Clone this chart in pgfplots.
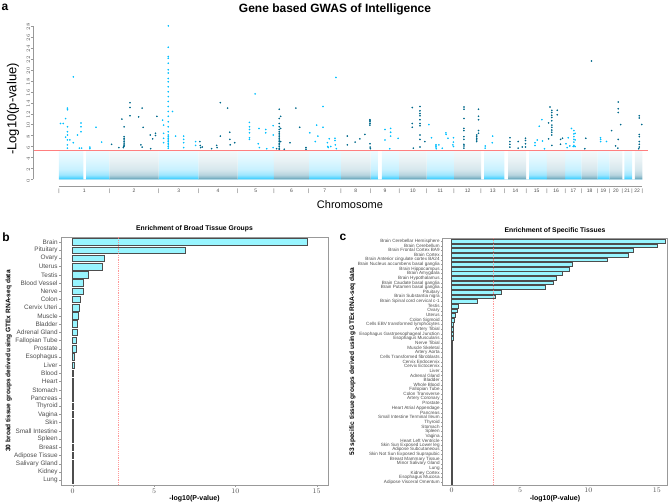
\documentclass[border=0pt]{standalone}
\usepackage{pgfplots}
\pgfplotsset{compat=1.18}
\usepackage{fontspec}
\setmainfont{Liberation Sans}
\definecolor{lightchr}{HTML}{00BFFF}
\definecolor{darkchr}{HTML}{00688B}
\definecolor{barfill}{HTML}{98F5FF}
\definecolor{bardraw}{HTML}{4D4D4D}
\definecolor{thr}{HTML}{FF7F7F}
\definecolor{axgray}{HTML}{999999}
\definecolor{txtgray}{HTML}{4D4D4D}

% density of the non-significant genes, densest near zero
% (TikZ maps 25bp..75bp of a shading onto the path)
\pgfdeclareverticalshading{noiseodd}{100bp}{color(0bp)=(lightchr!90!white); color(25bp)=(lightchr!90!white); color(28bp)=(lightchr!65!white); color(33bp)=(lightchr!38!white); color(42bp)=(lightchr!22!white); color(58bp)=(lightchr!13!white); color(75bp)=(lightchr!6!white); color(100bp)=(white)}
\pgfdeclareverticalshading{noiseeven}{100bp}{color(0bp)=(darkchr!75!white); color(25bp)=(darkchr!75!white); color(28bp)=(darkchr!48!white); color(33bp)=(darkchr!28!white); color(42bp)=(darkchr!16!white); color(58bp)=(darkchr!9!white); color(75bp)=(darkchr!4!white); color(100bp)=(white)}

% chromosome boundaries (Mb, cumulative)
\newcommand{\oddband}[1]{(0,#1) (121,0.001) (134,#1) (249,0.001) (492,#1) (690,0.001) (882,#1) (1062,0.001) (1234,#1) (1393,0.001) (1539,#1) (1575,0.001) (1595,#1) (1680,0.001) (1816,#1) (1951,0.001) (2100,#1) (2200,0.001) (2322,#1) (2410,0.001) (2500,#1) (2581,0.001) (2659,#1) (2719,0.001) (2792,#1) (2830,0.001) (2881,0.001)}
\newcommand{\evenband}[1]{(0,0.001) (249,#1) (492,0.001) (690,#1) (882,0.001) (1062,#1) (1234,0.001) (1393,#1) (1539,0.001) (1680,#1) (1816,0.001) (1951,#1) (2085,0.001) (2218,#1) (2307,0.001) (2410,#1) (2500,0.001) (2581,#1) (2659,0.001) (2719,#1) (2782,0.001) (2844,#1) (2881,0.001)}

\begin{document}
\begin{tikzpicture}[x=1pt,y=1pt]
\useasboundingbox (0,0) rectangle (669,502);

% ---------------- panel a: Manhattan plot ----------------
\begin{axis}[
  at={(33pt,316pt)}, anchor=south west, scale only axis,
  width=615pt, height=164.5pt,
  xmin=-128, xmax=2909, ymin=-1.2, ymax=28.8,
  axis line style={draw=none},
  clip=false,
  ytick pos=left, xtick pos=bottom,
  ytick={0,2,...,28},
  yticklabel style={rotate=90, anchor=south, font=\fontsize{4.5}{5}\selectfont, text=txtgray, inner sep=1pt},
  ytick style={axgray},
  tick align=outside, major tick length=2pt,
  y tick label style={xshift=-1pt},
  xtick={124.6,370.9,591.5,786.1,972.1,1148.1,1313.3,1466,1609.8,1748.2,1883.4,2017.9,2142.4,2253.6,2358.6,2455,2540.8,2620.4,2689,2750.1,2805.7,2855.4},
  xticklabels={1,2,3,4,5,6,7,8,9,10,11,12,13,14,15,16,17,18,19,20,21,22},
  xticklabel style={font=\fontsize{5}{5}\selectfont, text=txtgray, inner sep=1pt},
  xtick style={draw=none},
  extra x ticks={0,249.3,492.5,690.5,881.6,1062.5,1233.7,1392.8,1539.2,1680.4,1815.9,1950.9,2084.8,2199.9,2307.3,2409.8,2500.2,2581.4,2659.4,2718.6,2781.6,2829.7,2881},
  extra x tick labels={|,|,|,|,|,|,|,|,|,|,|,|,|,|,|,|,|,|,|,|,|,|,|},
  extra x tick style={xtick style={draw=none}, xticklabel style={font=\fontsize{5}{5}\selectfont, text=txtgray, inner sep=1pt}},
]
% background of non-significant genes, drawn as density bands
\addplot[ybar interval, draw=none, shade, shading=noiseodd] coordinates {\oddband{5.3}};
\addplot[ybar interval, draw=none, shade, shading=noiseeven] coordinates {\evenband{5.3}};
% significance threshold
\addplot[thr, line width=0.9pt] coordinates {(-128,5.37) (2909,5.37)};
% odd chromosomes
\addplot[only marks, mark=*, mark size=0.6pt, lightchr, mark options={draw=none}] coordinates {
(8,10.2) (21,10.2) (33,11.1) (33,7.7) (42,13.0) (42,12.7) (42,9.6) (42,8.7) (42,8.1) (42,7.2) (42,6.3) (42,5.7) (54,7.2) (71,18.7) (71,6.7) (92,8.1) (109,10.3) (109,9.6) (109,8.7) (101,5.7) (112,5.7) (153,5.9) (153,5.6) (183,9.5) (211,6.8)
(512,10.8) (517,9.9) (517,8.4) (517,7.5) (517,6.7) (540,28.0) (540,24.1) (540,22.4) (540,22.1) (540,21.2) (540,20.0) (540,19.4) (540,18.4) (540,17.8) (540,16.9) (540,16.0) (540,15.1) (540,14.2) (540,13.3) (540,12.4) (540,11.5) (540,10.5) (540,9.6) (540,8.7) (540,8.1) (540,7.8) (540,7.5) (540,7.2) (540,6.9) (540,6.6) (540,6.3) (540,6.0) (540,5.7) (561,12.4) (576,7.9) (616,7.9) (616,7.3) (616,6.7) (616,5.8) (675,6.9) (675,6.2)
(941,10.4) (941,9.6) (941,9.1) (941,8.5) (941,7.6) (941,7.3) (969,15.6) (988,9.3) (984,6.5) (990,5.8) (1021,9.1) (1021,8.5) (1026,5.6) (1058,9.8) (1058,8.1) (1058,5.8)
(1239,8.5) (1266,6.9) (1273,9.9) (1279,7.9) (1304,13.3) (1304,9.5) (1326,6.7) (1328,6.0) (1330,5.8) (1335,7.4) (1342,6.0) (1363,7.5) (1363,7.1) (1365,6.3) (1368,18.6) (1370,5.6)
(1610,9.1) (1610,7.2) (1634,5.6) (1638,9.3) (1638,8.6) (1638,7.9) (1675,7.5)
(1827,10.0) (1840,7.6) (1862,6.3) (1862,6.1) (1862,5.9) (1863,5.6) (1876,6.3) (1893,5.7) (1911,8.5) (1912,8.2) (1921,7.5) (1945,6.3) (1948,7.6) (1948,6.8) (1948,6.0)
(2105,6.1) (2105,5.7) (2142,7.9) (2140,6.7)
(2351,6.7) (2351,6.2) (2362,7.2) (2372,9.7) (2385,10.9) (2388,7.0) (2398,5.6)
(2504,6.5) (2510,5.8) (2515,7.6) (2523,6.1) (2531,9.3) (2543,8.9) (2543,8.3) (2543,7.8) (2543,7.3) (2543,6.8) (2543,6.2) (2540,6.0) (2549,8.4) (2549,7.2) (2549,6.0)
(2674,7.6) (2675,7.3) (2675,6.9) (2704,6.9)
};
% even chromosomes
\addplot[only marks, mark=*, mark size=0.6pt, darkchr, mark options={draw=none}] coordinates {
(260,6.4) (296,5.8) (311,11.0) (318,5.8) (320,6.0) (322,9.6) (322,7.8) (322,7.5) (322,7.2) (322,6.9) (322,6.6) (322,6.3) (322,6.1) (351,14.0) (351,13.1) (351,11.6) (394,11.4) (411,13.0) (416,9.5) (405,6.3) (411,5.9) (451,8.1) (453,5.6) (463,7.4) (477,8.4) (477,8.0) (484,11.5)
(696,6.9) (698,6.2) (700,5.8) (708,5.9) (754,5.6) (779,6.2) (781,5.8) (797,14.0) (797,7.9) (833,13.0) (844,8.6) (844,7.3) (846,6.3) (868,6.7)
(1075,5.6) (1088,12.8) (1088,11.1) (1088,10.2) (1088,9.6) (1088,9.1) (1088,8.7) (1088,8.4) (1088,8.1) (1088,7.8) (1088,7.5) (1088,7.2) (1088,6.9) (1088,6.6) (1088,6.3) (1088,6.0) (1088,5.7) (1088,5.5) (1095,11.5) (1095,9.3) (1095,6.9) (1113,5.5) (1141,6.7) (1170,13.0) (1189,9.5) (1220,5.8) (1220,5.5)
(1424,7.9) (1424,6.3) (1463,6.8) (1486,7.4) (1511,8.2) (1536,10.9) (1536,10.7) (1536,10.5) (1536,10.2) (1536,9.9) (1536,6.5) (1537,5.9) (1538,5.6)
(1745,13.1) (1745,10.2) (1745,9.5) (1750,5.7) (1783,13.3) (1783,12.5) (1783,12.0) (1783,11.6) (1783,10.9) (1783,10.2) (1783,9.8) (1783,8.1) (1783,7.3) (1783,5.9) (1807,6.9)
(2000,13.2) (2000,12.8) (2000,11.1) (2000,9.3) (2000,8.9) (2000,7.8) (2000,7.3) (2000,6.4) (2000,6.1) (2000,5.7) (2063,8.1) (2063,7.8) (2063,7.5) (2063,7.2) (2063,6.9) (2072,12.8) (2072,11.5) (2072,10.9) (2072,8.9) (2072,8.4)
(2227,7.6) (2227,6.9) (2227,6.4) (2227,5.9) (2268,6.9) (2268,5.7) (2288,5.9) (2304,7.5) (2304,7.1) (2304,6.5) (2304,5.9)
(2418,10.3) (2418,7.4) (2425,13.2) (2434,12.6) (2434,12.2) (2434,11.7) (2434,11.3) (2434,10.7) (2434,9.9) (2434,9.5) (2434,9.0) (2434,8.6) (2434,8.1) (2434,6.2) (2461,12.6) (2461,11.8) (2477,7.3) (2477,6.4) (2487,7.5)
(2597,5.6) (2602,7.5) (2630,21.6)
(2729,8.9) (2749,6.1) (2760,5.7) (2762,14.1) (2762,12.9) (2762,12.2) (2762,7.3) (2774,10.0)
(2863,5.6) (2866,11.6) (2866,11.2) (2866,8.2) (2866,7.8) (2866,6.9) (2866,6.4) (2866,5.9) (2878,10.0)
};
\draw[axgray, line width=0.6pt] (axis cs:0,-1.2) -- (axis cs:2881,-1.2);
\draw[axgray, line width=0.6pt] (axis cs:-128,0) -- (axis cs:-128,28);
\end{axis}

\node[font=\bfseries\fontsize{12}{12}\selectfont] at (335,493) {Gene based GWAS of Intelligence};
\node[font=\fontsize{11}{11}\selectfont] at (350,297) {Chromosome};
\node[font=\fontsize{13}{13}\selectfont, rotate=90] at (13,393) {-Log10(p-value)};
\node[font=\bfseries\fontsize{12}{12}\selectfont] at (5,495) {a};
\node[font=\bfseries\fontsize{12}{12}\selectfont] at (6,265) {b};
\node[font=\bfseries\fontsize{12}{12}\selectfont] at (343,265) {c};

% ---------------- panel b: broad tissue groups ----------------
\begin{axis}[
  at={(61pt,17pt)}, anchor=south west, scale only axis,
  width=267pt, height=248pt,
  xmin=-0.72, xmax=15.7, ymin=0.4, ymax=30.6,
  axis line style={axgray, line width=0.8pt},
  tick align=outside, major tick length=2pt,
  tick style={axgray},
  ytick pos=left, xtick pos=bottom,
  xtick={0,5,10,15},
  ytick={1,...,30},
  yticklabels={Lung,Kidney,Salivary Gland,Adipose Tissue,Breast,Spleen,Small Intestine,Skin,Vagina,Thyroid,Pancreas,Stomach,Heart,Blood,Liver,Esophagus,Prostate,Fallopian Tube,Adrenal Gland,Bladder,Muscle,Cervix Uteri,Colon,Nerve,Blood Vessel,Testis,Uterus,Ovary,Pituitary,Brain},
  yticklabel style={font=\fontsize{6.4}{7}\selectfont, text=txtgray, inner sep=1.2pt},
  xticklabel style={font=\fontsize{7}{8}\selectfont, text=txtgray, inner sep=1.5pt},
  title={Enrichment of Broad Tissue Groups},
  title style={at={(0.5,1)}, anchor=south, yshift=-3pt, font=\bfseries\fontsize{6.8}{8}\selectfont, inner sep=1.5pt},
  xlabel={-log10(P-value)},
  xlabel style={font=\bfseries\fontsize{7}{8}\selectfont, inner sep=1pt},
  ylabel={30 broad tissue groups derived using GTEx RNA-seq data},
  ylabel style={font=\bfseries\fontsize{6.6}{7}\selectfont, inner sep=1pt},
]
\addplot[xbar, bar width=0.8, fill=barfill, draw=bardraw, line width=0.6pt] coordinates {
(0.01,1) (0.01,2) (0.01,3) (0.01,4) (0.02,5) (0.02,6) (0.02,7) (0.03,8) (0.03,9) (0.04,10)
(0.04,11) (0.05,12) (0.06,13) (0.06,14) (0.07,15) (0.08,16) (0.20,17) (0.22,18) (0.28,19) (0.29,20)
(0.35,21) (0.39,22) (0.49,23) (0.64,24) (0.65,25) (0.96,26) (1.82,27) (1.94,28) (6.90,29) (14.42,30)};
\addplot[thr, dash pattern=on 1.2pt off 1pt, line width=0.5pt, opacity=0.8] coordinates {(2.78,0.4) (2.78,30.6)};
\end{axis}

% ---------------- panel c: specific tissues ----------------
\begin{axis}[
  at={(442.3pt,17pt)}, anchor=south west, scale only axis,
  width=225.4pt, height=246.7pt,
  xmin=-0.69, xmax=15.8, ymin=0.4, ymax=53.6,
  axis line style={axgray, line width=0.8pt},
  tick align=outside, major tick length=1.5pt,
  tick style={axgray},
  ytick pos=left, xtick pos=bottom,
  xtick={0,5,10,15},
  ytick={1,...,53},
  yticklabels={Adipose Visceral Omentum,Esophagus Mucosa,Kidney Cortex,Lung,Minor Salivary Gland,Breast Mammary Tissue,Skin Not Sun Exposed Suprapubic,Adipose Subcutaneous,Skin Sun Exposed Lower leg,Heart Left Ventricle,Vagina,Spleen,Stomach,Thyroid,Small Intestine Terminal Ileum,Pancreas,Heart Atrial Appendage,Prostate,Artery Coronary,Colon Transverse,Fallopian Tube,Whole Blood,Bladder,Adrenal Gland,Liver,Cervix Ectocervix,Cervix Endocervix,Cells Transformed fibroblasts,Artery Aorta,Muscle Skeletal,Nerve Tibial,Esophagus Muscularis,Esophagus Gastroesophageal Junction,Artery Tibial,Cells EBV transformed lymphocytes,Colon Sigmoid,Uterus,Ovary,Testis,Brain Spinal cord cervical c-1,Brain Substantia nigra,Pituitary,Brain Putamen basal ganglia,Brain Caudate basal ganglia,Brain Hypothalamus,Brain Amygdala,Brain Hippocampus,Brain Nucleus accumbens basal ganglia,Brain Anterior cingulate cortex BA24,Brain Cortex,Brain Frontal Cortex BA9,Brain Cerebellum,Brain Cerebellar Hemisphere},
  yticklabel style={font=\fontsize{4.6}{4.8}\selectfont, text=txtgray, inner sep=1pt},
  xticklabel style={font=\fontsize{7}{8}\selectfont, text=txtgray, inner sep=1.5pt},
  title={Enrichment of Specific Tissues},
  title style={at={(0.5,1)}, anchor=south, yshift=-3pt, font=\bfseries\fontsize{6.8}{8}\selectfont, inner sep=1.5pt},
  xlabel={-log10(P-value)},
  xlabel style={font=\bfseries\fontsize{7}{8}\selectfont, inner sep=1pt},
  ylabel={53 specific tissue groups derived using GTEx RNA-seq data},
  ylabel style={font=\bfseries\fontsize{6.6}{7}\selectfont, inner sep=1pt},
]
\addplot[xbar, bar width=0.8, fill=barfill, draw=bardraw, line width=0.5pt] coordinates {
(0.01,1) (0.01,2) (0.01,3) (0.01,4) (0.01,5) (0.01,6) (0.01,7) (0.01,8) (0.01,9) (0.01,10)
(0.01,11) (0.01,12) (0.01,13) (0.02,14) (0.02,15) (0.02,16) (0.02,17) (0.02,18) (0.02,19) (0.03,20)
(0.03,21) (0.03,22) (0.03,23) (0.04,24) (0.04,25) (0.04,26) (0.05,27) (0.05,28) (0.06,29) (0.06,30)
(0.07,31) (0.08,32) (0.09,33) (0.10,34) (0.12,35) (0.15,36) (0.27,37) (0.39,38) (0.49,39) (1.83,40)
(3.20,41) (3.59,42) (6.83,43) (7.40,44) (7.63,45) (8.05,46) (8.60,47) (8.85,48) (11.40,49) (12.90,50)
(13.30,51) (15.05,52) (15.60,53)};
\addplot[thr, dash pattern=on 1.2pt off 1pt, line width=0.5pt, opacity=0.8] coordinates {(3.03,0.4) (3.03,53.6)};
\end{axis}
\end{tikzpicture}
\end{document}
